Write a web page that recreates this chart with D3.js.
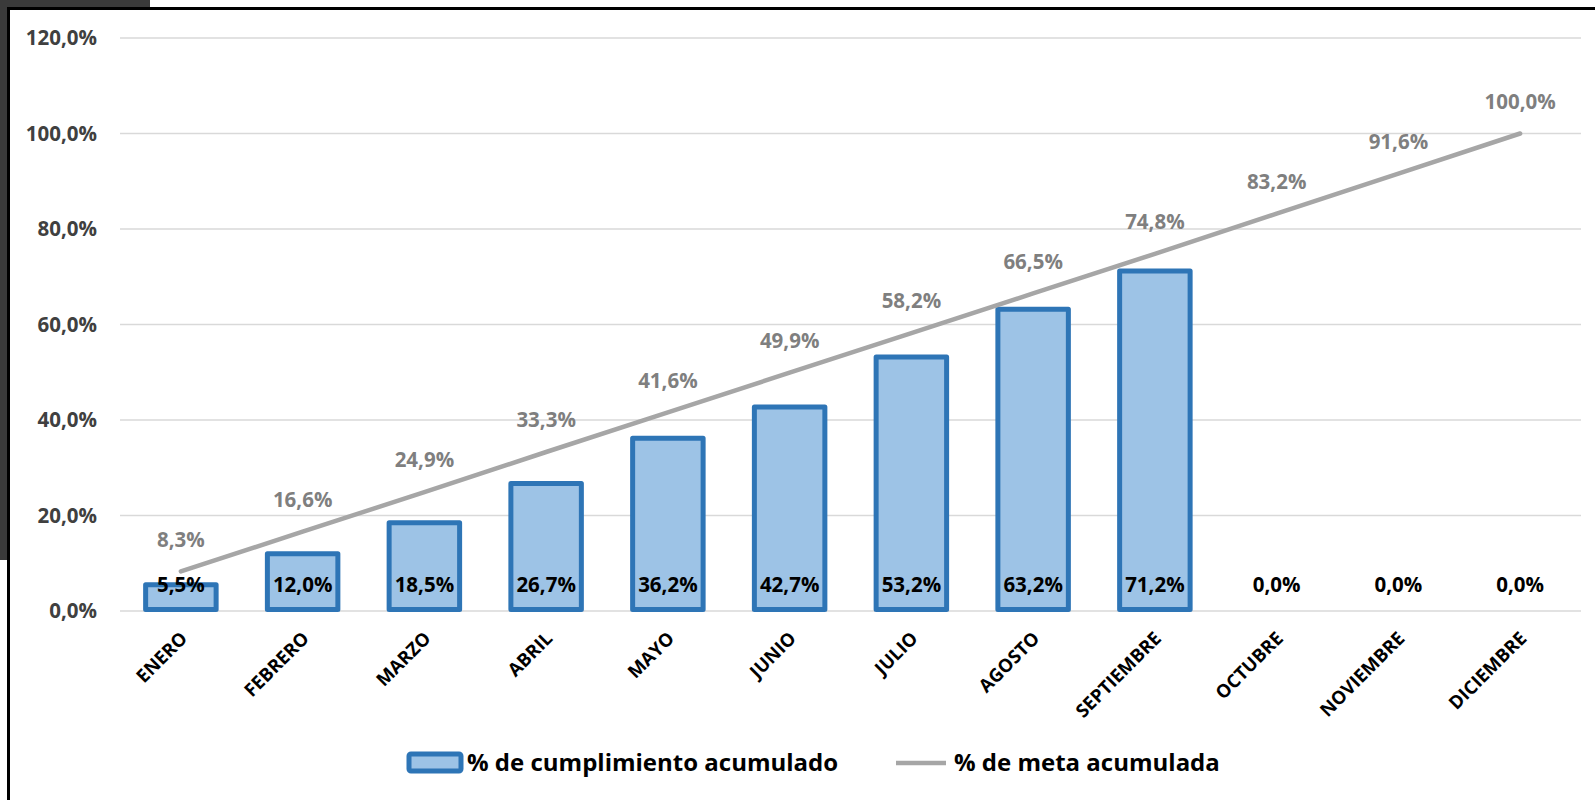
<!DOCTYPE html>
<html>
<head>
<meta charset="utf-8">
<script src="https://cdn.jsdelivr.net/npm/d3@7"></script>
<style>
  body { margin: 0; background: #fff; }
  svg { display: block; font-family: "Open Sans", Lato, sans-serif; font-weight: bold; }
</style>
</head>
<body>
<svg id="chart"></svg>
<script>
(function() {

  const months = ['ENERO', 'FEBRERO', 'MARZO', 'ABRIL', 'MAYO', 'JUNIO', 'JULIO',
                  'AGOSTO', 'SEPTIEMBRE', 'OCTUBRE', 'NOVIEMBRE', 'DICIEMBRE']
  const cumplimiento = [5.5, 12.0, 18.5, 26.7, 36.2, 42.7, 53.2, 63.2, 71.2, 0, 0, 0]
  const meta = [8.3, 16.6, 24.9, 33.3, 41.6, 49.9, 58.2, 66.5, 74.8, 83.2, 91.6, 100.0]
  const yTicks = [0, 20, 40, 60, 80, 100, 120]
  const seriesNames = ['% de cumplimiento acumulado', '% de meta acumulada']

  const width = 1595
  const height = 800
  const margin = {top: 38, right: 14, bottom: 189, left: 120}

  const fmt = v => v.toFixed(1).replace('.', ',') + '%'

  const svg = d3.select('#chart')
    .attr('width', width)
    .attr('height', height)

  // window frame around the chart
  svg.append('rect').attr('x', 0).attr('y', 0).attr('width', 150).attr('height', 8).attr('fill', '#3a3a3a')
  svg.append('rect').attr('x', 0).attr('y', 0).attr('width', 8).attr('height', 560).attr('fill', '#3a3a3a')
  svg.append('rect').attr('x', 7).attr('y', 7).attr('width', width - 7).attr('height', 3).attr('fill', '#000')
  svg.append('rect').attr('x', 7).attr('y', 7).attr('width', 3).attr('height', height - 7).attr('fill', '#000')

  const x = d3.scaleBand()
    .domain(months)
    .range([margin.left, width - margin.right])
    .paddingInner(0.38)
    .paddingOuter(0.19)

  const y = d3.scaleLinear()
    .domain([0, 120])
    .range([height - margin.bottom, margin.top])

  const xc = d => x(d) + x.bandwidth() / 2

  // gridlines
  svg.append('g')
    .selectAll('line')
    .data(yTicks)
    .enter()
    .append('line')
    .attr('x1', margin.left)
    .attr('x2', width - margin.right)
    .attr('y1', d => y(d))
    .attr('y2', d => y(d))
    .attr('stroke', '#d9d9d9')
    .attr('stroke-width', 1.5)

  // y axis labels
  const yAxis = svg.append('g')
    .attr('transform', `translate(${margin.left - 23},0)`)
    .call(d3.axisLeft(y).tickValues(yTicks).tickFormat(fmt).tickSize(0).tickPadding(0))
  yAxis.select('.domain').remove()
  yAxis.selectAll('text')
    .attr('fill', '#404040')
    .style('font-size', '20.5px')
    .style('font-family', '"Open Sans", sans-serif')
    .style('font-weight', 'bold')

  // bars
  svg.append('g')
    .selectAll('rect')
    .data(months.map((m, i) => ({m, v: cumplimiento[i]})).filter(d => d.v > 0))
    .enter()
    .append('rect')
    .attr('x', d => x(d.m) + 2.5)
    .attr('width', x.bandwidth() - 5)
    .attr('y', d => y(d.v))
    .attr('height', d => y(0) - y(d.v) - 1.5)
    .attr('fill', '#9dc3e6')
    .attr('stroke', '#2e75b6')
    .attr('stroke-width', 5)
    .attr('stroke-linejoin', 'round')

  // line
  const line = d3.line()
    .x((d, i) => xc(months[i]))
    .y(d => y(d))

  svg.append('path')
    .datum(meta)
    .attr('d', line)
    .attr('fill', 'none')
    .attr('stroke', '#a6a6a6')
    .attr('stroke-width', 4.5)
    .attr('stroke-linecap', 'round')

  // line labels
  svg.append('g')
    .selectAll('text')
    .data(meta)
    .enter()
    .append('text')
    .attr('x', (d, i) => xc(months[i]))
    .attr('y', d => y(d) - 32)
    .attr('dy', '0.35em')
    .attr('text-anchor', 'middle')
    .attr('fill', '#7f7f7f')
    .style('font-size', '20.5px')
    .text(fmt)

  // bar labels
  svg.append('g')
    .selectAll('text')
    .data(cumplimiento)
    .enter()
    .append('text')
    .attr('x', (d, i) => xc(months[i]))
    .attr('y', y(0) - 26)
    .attr('dy', '0.35em')
    .attr('text-anchor', 'middle')
    .attr('fill', '#000')
    .style('font-size', '20.5px')
    .text(fmt)

  // x labels
  svg.append('g')
    .selectAll('text')
    .data(months)
    .enter()
    .append('text')
    .attr('transform', d => `translate(${xc(d) + 3},${y(0) + 24}) rotate(-45)`)
    .attr('text-anchor', 'end')
    .attr('dy', '0.35em')
    .attr('fill', '#000')
    .style('font-size', '18.5px')
    .text(d => d)

  // legend
  const legend = svg.append('g')
  legend.append('rect')
    .attr('x', 409).attr('y', 754).attr('width', 52).attr('height', 17)
    .attr('rx', 2)
    .attr('fill', '#9dc3e6').attr('stroke', '#2e75b6').attr('stroke-width', 5)
  legend.append('text')
    .attr('x', 467).attr('y', 763).attr('dy', '0.35em')
    .attr('fill', '#000').style('font-size', '24px')
    .text(seriesNames[0])
  legend.append('line')
    .attr('x1', 896).attr('x2', 946).attr('y1', 763).attr('y2', 763)
    .attr('stroke', '#a6a6a6').attr('stroke-width', 4.5)
  legend.append('text')
    .attr('x', 954).attr('y', 763).attr('dy', '0.35em')
    .attr('fill', '#000').style('font-size', '24px')
    .text(seriesNames[1])

})()
</script>
</body>
</html>
